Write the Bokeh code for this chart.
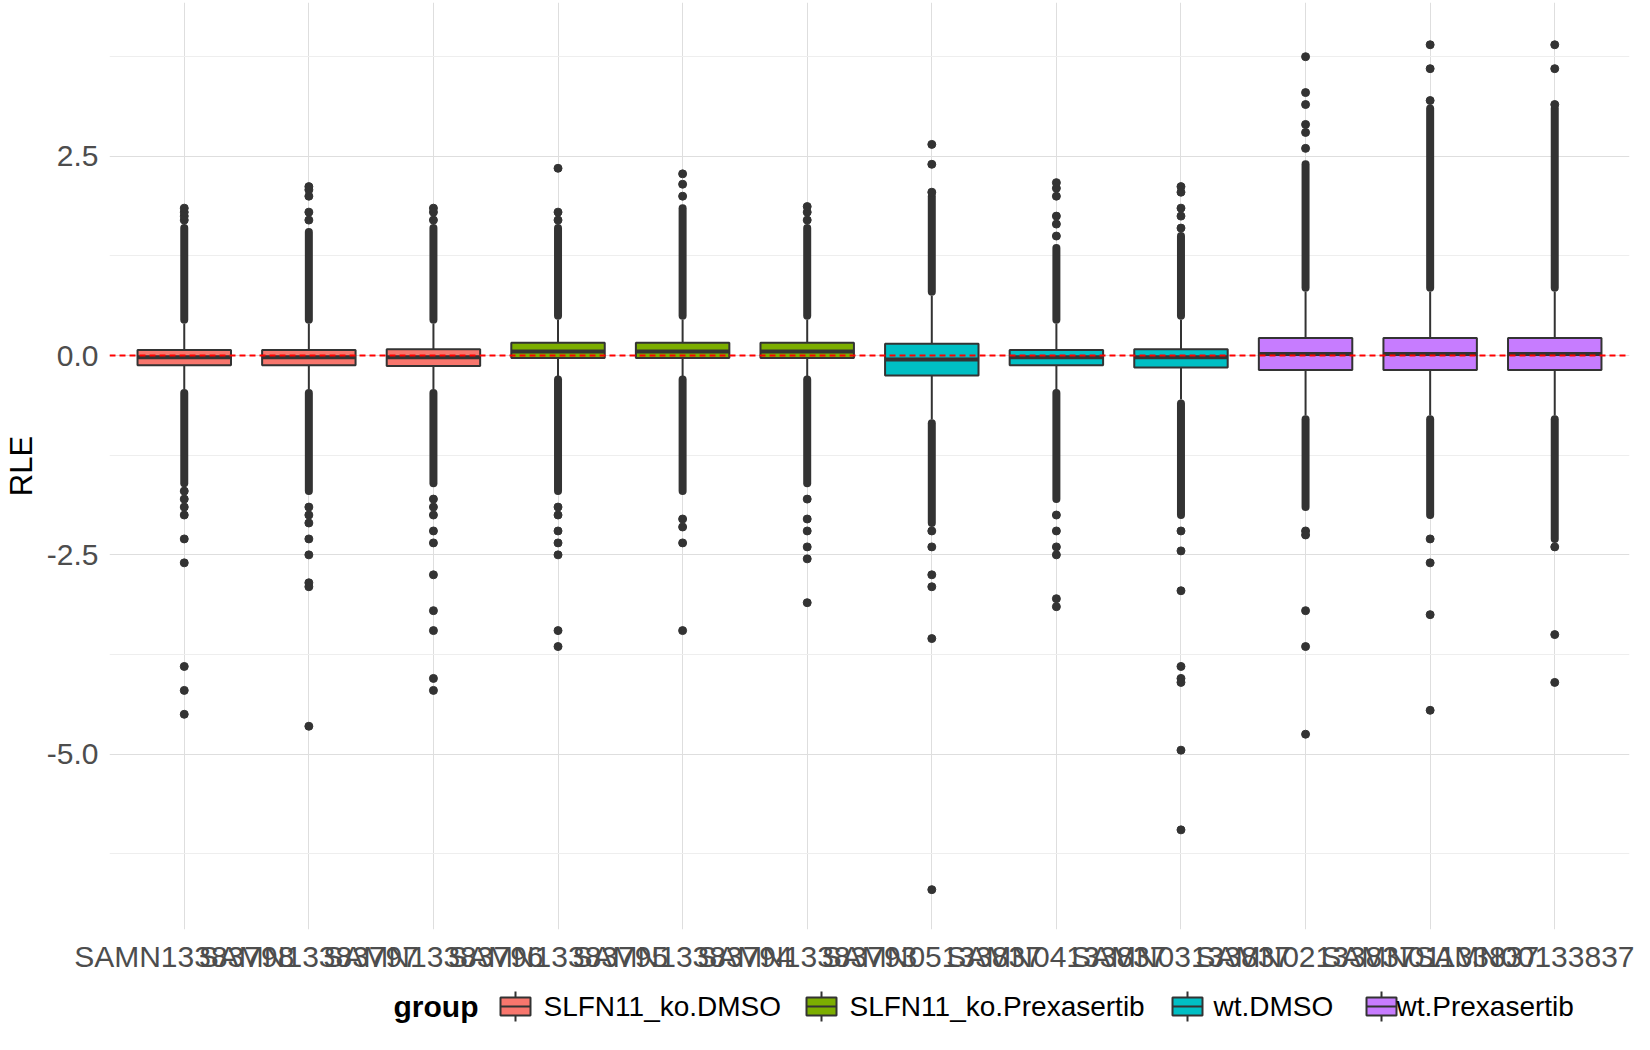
from bokeh.plotting import figure
from bokeh.layouts import column
from bokeh.models import FixedTicker, Span, Range1d
from bokeh.embed import file_html
from bokeh.resources import INLINE
from bokeh.core.properties import value

samples = ["SAMN13383798","SAMN13383797","SAMN13383796","SAMN13383795","SAMN13383794","SAMN13383793",
           "SAMN05133837","SAMN04133837","SAMN03133837","SAMN02133837","SAMN01133837","SAMN00133837"]
groups = ["SLFN11_ko.DMSO"]*3 + ["SLFN11_ko.Prexasertib"]*3 + ["wt.DMSO"]*3 + ["wt.Prexasertib"]*3
group_names = ["SLFN11_ko.DMSO","SLFN11_ko.Prexasertib","wt.DMSO","wt.Prexasertib"]
group_colors = ["#F8766D","#7CAE00","#00BFC4","#C77CFF"]

q1 = [-0.12,-0.12,-0.13,-0.03,-0.03,-0.03,-0.25,-0.12,-0.15,-0.18,-0.18,-0.18]
med = [-0.02,-0.02,-0.02,0.05,0.05,0.05,-0.05,-0.02,-0.02,0.02,0.02,0.02]
q3 = [0.07,0.07,0.08,0.16,0.16,0.16,0.15,0.07,0.08,0.22,0.22,0.22]
wlo = [-0.42,-0.42,-0.42,-0.28,-0.28,-0.28,-0.8,-0.45,-0.55,-0.75,-0.75,-0.75]
whi = [0.40,0.40,0.40,0.45,0.45,0.45,0.75,0.40,0.45,0.80,0.80,0.80]
dense_up_lo = [0.45,0.45,0.45,0.5,0.5,0.5,0.8,0.45,0.5,0.85,0.85,0.85]
dense_up_hi = [1.6,1.55,1.6,1.6,1.85,1.6,2.0,1.35,1.5,2.4,3.1,3.1]
dense_dn_hi = [-0.47,-0.47,-0.47,-0.3,-0.3,-0.3,-0.85,-0.47,-0.6,-0.8,-0.8,-0.8]
dense_dn_lo = [-1.6,-1.7,-1.6,-1.7,-1.7,-1.6,-2.1,-1.8,-2.0,-1.9,-2.0,-2.3]
outliers = [
    [1.7,1.75,1.8,1.85,-1.7,-1.8,-1.9,-2.0,-2.3,-2.6,-3.9,-4.2,-4.5],
    [1.7,1.8,2.0,2.08,2.12,-1.9,-2.0,-2.1,-2.3,-2.5,-2.85,-2.9,-4.65],
    [1.7,1.8,1.85,-1.8,-1.9,-2.0,-2.2,-2.35,-2.75,-3.2,-3.45,-4.05,-4.2],
    [1.7,1.8,2.35,-1.9,-2.0,-2.2,-2.35,-2.5,-3.45,-3.65],
    [2.0,2.15,2.28,-2.05,-2.15,-2.35,-3.45],
    [1.7,1.8,1.87,-1.8,-2.05,-2.2,-2.4,-2.55,-3.1],
    [2.05,2.4,2.65,-2.2,-2.4,-2.75,-2.9,-3.55,-6.7],
    [1.5,1.65,1.75,2.0,2.1,2.17,-2.0,-2.2,-2.4,-2.5,-3.05,-3.15],
    [1.6,1.75,1.85,2.05,2.12,-2.2,-2.45,-2.95,-3.9,-4.05,-4.1,-4.95,-5.95],
    [2.6,2.8,2.9,3.15,3.3,3.75,-2.2,-2.25,-3.2,-3.65,-4.75],
    [3.2,3.6,3.9,-2.3,-2.6,-3.25,-4.45],
    [3.15,3.6,3.9,-2.4,-3.5,-4.1],
]

xs = list(range(1, len(samples) + 1))
cols = [group_colors[group_names.index(g)] for g in groups]
dark = "#333333"

p = figure(width=1634, height=975, output_backend="svg", toolbar_location=None,
           x_range=Range1d(0.4, 12.6), y_range=Range1d(-7.2, 4.43),
           min_border_left=106, min_border_right=5, min_border_top=2, min_border_bottom=5)
p.outline_line_color = None
p.background_fill_color = "white"

p.segment(x0=xs, y0=q3, x1=xs, y1=whi, line_color=dark, line_width=2)
p.segment(x0=xs, y0=q1, x1=xs, y1=wlo, line_color=dark, line_width=2)
p.segment(x0=xs, y0=dense_up_lo, x1=xs, y1=dense_up_hi, line_color=dark, line_width=8, line_cap="round")
p.segment(x0=xs, y0=dense_dn_hi, x1=xs, y1=dense_dn_lo, line_color=dark, line_width=8, line_cap="round")
ox, oy = [], []
for x, vals in zip(xs, outliers):
    for v in vals:
        ox.append(x); oy.append(v)
p.scatter(ox, oy, size=8, color=dark)
p.vbar(x=xs, bottom=q1, top=q3, width=0.75, fill_color=cols, line_color=dark, line_width=2)
p.segment(x0=[x - 0.375 for x in xs], y0=med, x1=[x + 0.375 for x in xs], y1=med, line_color=dark, line_width=4)

p.add_layout(Span(location=0, dimension="width", line_color="red", line_dash="6 4", line_width=2))

p.xaxis.ticker = FixedTicker(ticks=xs)
p.xaxis.major_label_overrides = {x: s for x, s in zip(xs, samples)}
p.yaxis.ticker = FixedTicker(ticks=[-5, -2.5, 0, 2.5], minor_ticks=[-6.25, -3.75, -1.25, 1.25, 3.75])
p.yaxis.major_label_overrides = {-5: "-5.0", -2.5: "-2.5", 0: "0.0", 2.5: "2.5"}
for ax in (p.xaxis, p.yaxis):
    ax.axis_line_color = None
    ax.major_tick_line_color = None
    ax.minor_tick_line_color = None
    ax.major_label_text_font = "Liberation Sans"
    ax.major_label_text_font_size = "30px"
    ax.major_label_text_color = "#4D4D4D"
p.yaxis.axis_label = "RLE"
p.yaxis.axis_label_text_font = "Liberation Sans"
p.yaxis.axis_label_text_font_size = "31px"
p.yaxis.axis_label_text_font_style = "normal"
p.yaxis.axis_label_text_color = "black"
p.xaxis.major_label_standoff = 4
p.xgrid.grid_line_color = "#DEDEDE"
p.ygrid.grid_line_color = "#DEDEDE"
p.ygrid.minor_grid_line_color = "#EEEEEE"

lg = figure(frame_width=1634, frame_height=62, output_backend="svg", toolbar_location=None,
            x_axis_type=None, y_axis_type=None,
            x_range=Range1d(0, 1634), y_range=Range1d(0, 62),
            min_border_left=0, min_border_right=0, min_border_top=0, min_border_bottom=0)
lg.grid.visible = False
lg.outline_line_color = None
lg.text([284], [31], text=["group"], text_font=value("Liberation Sans"), text_font_size="30px",
        text_font_style="bold", text_baseline="middle", text_align="left")
key_x = [406, 712, 1078, 1272]
txt_x = [434, 740, 1104, 1287]
lg.segment(x0=key_x, y0=[16]*4, x1=key_x, y1=[46]*4, line_color=dark, line_width=2)
lg.rect(x=key_x, y=[31]*4, width=30, height=18, fill_color=group_colors, line_color=dark, line_width=2)
lg.segment(x0=[k - 15 for k in key_x], y0=[31]*4, x1=[k + 15 for k in key_x], y1=[31]*4, line_color=dark, line_width=2)
lg.text(txt_x, [31]*4, text=group_names, text_font=value("Liberation Sans"), text_font_size="28px",
        text_baseline="middle", text_align="left", text_color="black")

layout = column(p, lg, spacing=0)
open("out.html", "w").write(file_html(layout, INLINE))
